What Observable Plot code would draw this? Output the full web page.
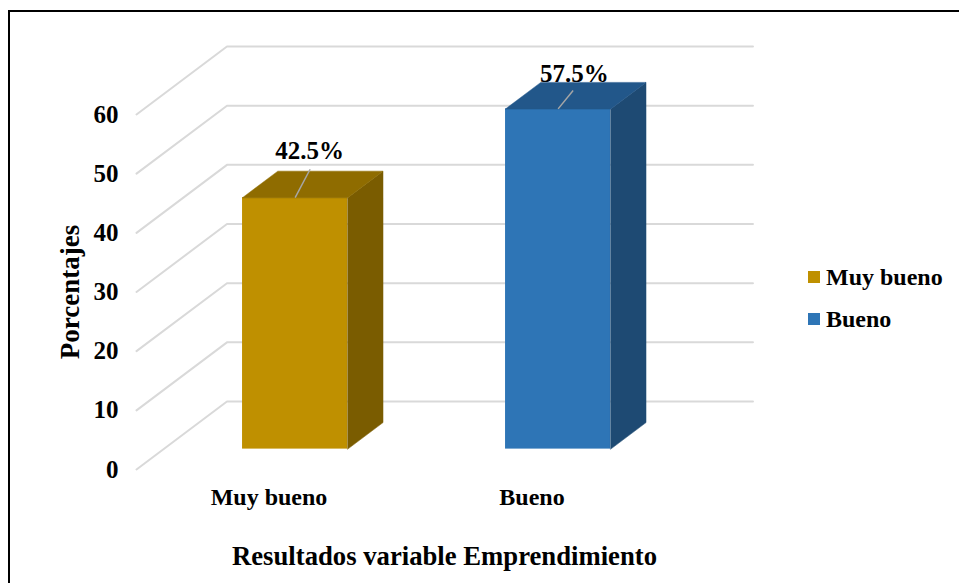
<!DOCTYPE html>
<html>
<head>
<meta charset="utf-8">
<script src="https://cdn.jsdelivr.net/npm/d3@7"></script>
<script src="https://cdn.jsdelivr.net/npm/@observablehq/plot@0.6"></script>
<style>
  html, body { margin: 0; padding: 0; background: #fff; }
  #page { position: relative; width: 959px; height: 583px; overflow: hidden; font-family: "Liberation Serif", serif; font-weight: bold; color: #000; }
  #border { position: absolute; left: 8px; top: 10px; right: 0; bottom: -4px; border-left: 2px solid #000; border-top: 2px solid #000; }
  #chart { position: absolute; left: 0; top: 0; }
  #chart svg { background: transparent !important; }
  .key { position: absolute; left: 808px; display: flex; align-items: center; font-size: 24px; line-height: 24px; white-space: nowrap; }
  .key i { display: block; width: 12px; height: 12px; margin-right: 6px; margin-top: 0; }
</style>
</head>
<body>
<div id="page">
  <div id="border"></div>
  <div id="chart"></div>
  <div id="legend"></div>
</div>
<script>
// Data
const categories = ["Muy bueno", "Bueno"];
const values = [42.5, 57.5];
const valueLabels = ["42.5%", "57.5%"];
const yTicks = [0, 10, 20, 30, 40, 50, 60];
const frontColors = ["#BF9000", "#2E75B6"];
const sideColors = ["#7A5C00", "#1E4A73"];
const topColors = ["#8F6C00", "#22578A"];
const labelLift = [7.85, 5.9];    // value units above the back of the bar's top edge
const labelShift = [0.055, 0.062]; // x units right of the bar's centre
const leaderLift = [4.8, 3.1];    // leader height in value units

// Oblique projection: depth 0 is the front edge of the floor, depth 1 the back wall
const depthX = 0.344;  // x units per depth
const depthY = 11.49;  // y units per depth
const barFront = 0.3, barBack = 0.69, barHalf = 0.2;
const px = (i, d) => i + d * depthX;
const py = (v, d) => v + d * depthY;

const grid = yTicks.flatMap(v => [
  {v, x: -0.5, y: v},
  {v, x: px(-0.5, 1), y: py(v, 1)},
  {v, x: px(1.5, 1), y: py(v, 1)}
]);

const bars = categories.map((c, i) => ({c, i, v: values[i]}));
const face = (b, kind) => {
  const l = b.i - barHalf, r = b.i + barHalf;
  const pts = kind === "side"
    ? [[r, barFront, 0], [r, barBack, 0], [r, barBack, b.v], [r, barFront, b.v]]
    : [[l, barFront, b.v], [l, barBack, b.v], [r, barBack, b.v], [r, barFront, b.v]];
  return pts.map(([x, d, v]) => ({key: b.c + kind, x: px(x, d), y: py(v, d)}));
};

const faceLine = (kind, colors) => bars.map(b =>
  Plot.line(face(b, kind), {x: "x", y: "y", fill: colors[b.i], stroke: colors[b.i], strokeWidth: 0.5, curve: "linear-closed"}));

const textStyle = {fontFamily: "Liberation Serif", fontWeight: "bold", fill: "#000"};

const chart = Plot.plot({
  width: 959,
  height: 583,
  marginLeft: 136,
  marginRight: 297,
  marginTop: 114,
  marginBottom: 114,
  x: {domain: [-0.5, 1.5], label: null},
  y: {domain: [0, 60], label: null},
  style: {background: "transparent", overflow: "visible"},
  marks: [
    Plot.line(grid, {x: "x", y: "y", z: "v", stroke: "#D9D9D9", strokeWidth: 2, curve: "linear"}),
    Plot.axisY({ticks: yTicks, tickSize: 0, tickPadding: 18, label: null, fontSize: 25, ...textStyle}),
    Plot.axisX({ticks: [0, 1], tickFormat: i => categories[i], tickSize: 0, tickPadding: 18, label: null, fontSize: 24, ...textStyle, dx: 1}),
    Plot.text(bars, {
      x: b => px(b.i, barFront) + labelShift[b.i],
      y: b => py(b.v, barFront) + labelLift[b.i],
      text: b => valueLabels[b.i],
      fontSize: 25, ...textStyle
    }),
    Plot.rect(bars, {
      x1: b => px(b.i - barHalf, barFront),
      x2: b => px(b.i + barHalf, barFront),
      y1: () => py(0, barFront),
      y2: b => py(b.v, barFront),
      fill: b => frontColors[b.i]
    }),
    ...faceLine("side", sideColors),
    ...faceLine("top", topColors),
    Plot.link(bars, {
      x1: b => px(b.i, barFront),
      y1: b => py(b.v, barFront),
      x2: b => px(b.i, barFront) + 0.057,
      y2: b => py(b.v, barFront) + leaderLift[b.i],
      stroke: "#A6A6A6",
      strokeWidth: 1.5
    }),
    Plot.text(["Porcentajes"], {frameAnchor: "left", textAnchor: "middle", rotate: -90, dx: -66, fontSize: 27, ...textStyle}),
    Plot.text(["Resultados variable Emprendimiento"], {frameAnchor: "bottom", dx: 45, dy: 95, fontSize: 26.7, ...textStyle})
  ]
});
document.getElementById("chart").appendChild(chart);

// Legend
const legend = document.getElementById("legend");
const legendTops = [265, 307];
categories.forEach((c, i) => {
  const row = document.createElement("div");
  row.className = "key";
  row.style.top = legendTops[i] + "px";
  const sw = document.createElement("i");
  sw.style.background = frontColors[i];
  row.appendChild(sw);
  row.appendChild(document.createTextNode(c));
  legend.appendChild(row);
});
</script>
</body>
</html>
